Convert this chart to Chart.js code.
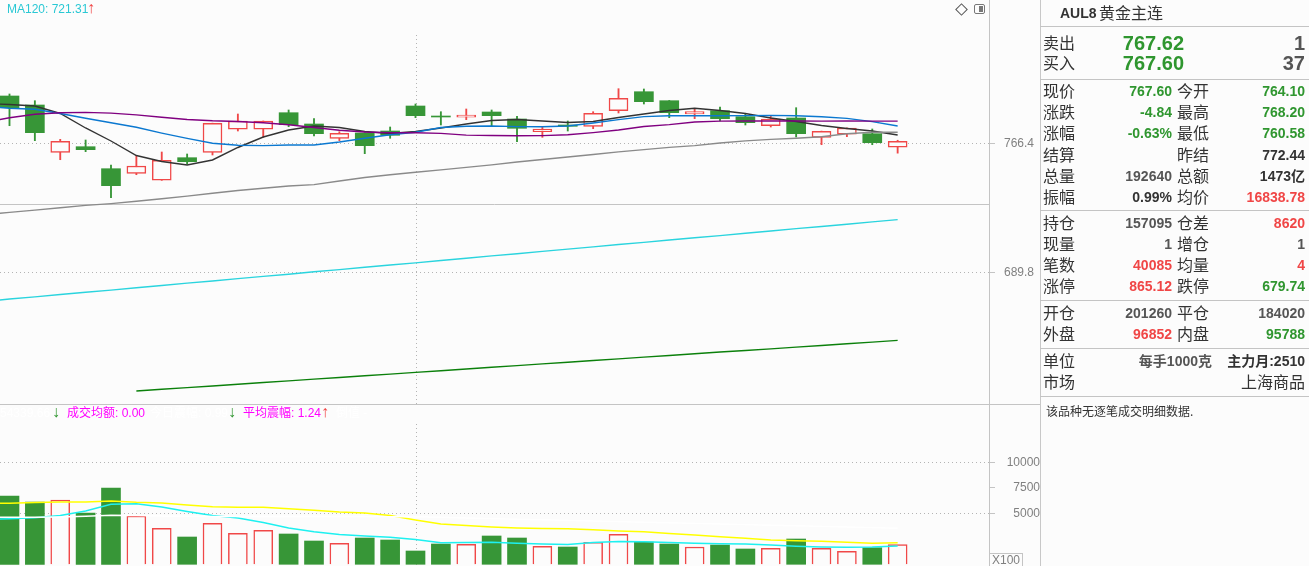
<!DOCTYPE html>
<html>
<head>
<meta charset="utf-8">
<title>AUL8 黄金主连</title>
<script src="https://cdn.jsdelivr.net/npm/chart.js@4.4.1/dist/chart.umd.min.js"></script>
<style>
    body {
        margin: 0;
        width: 1309px;
        height: 566px;
        overflow: hidden;
        position: relative;
        background: #fcfcfc;
        font-family: 'Liberation Sans', Arial, sans-serif;
    }
    canvas { position: absolute; left: 0; }
    #price-chart { top: 0; }
    #volume-chart { top: 405px; }
    .abs { position: absolute; white-space: nowrap; z-index: 2; }
    .hline { position: absolute; height: 1px; background: #c4c4c4; z-index: 2; }
    .cjk { font: 16px 'Noto Sans CJK SC', sans-serif; line-height: 20px; color: #333; }
    .num { font: bold 14px 'Liberation Sans', 'Noto Sans CJK SC', sans-serif; line-height: 20px; }
    .big { font: bold 20px 'Liberation Sans', sans-serif; line-height: 20px; }
    .small { font: 12px 'Liberation Sans', 'Noto Sans CJK SC', sans-serif; line-height: 16px; }
    .smallcjk { font: 12px 'Noto Sans CJK SC', sans-serif; line-height: 16px; color: #333; }
    .arrow { font: 16px 'Liberation Sans', 'DejaVu Sans', sans-serif; line-height: 18px; }
    #panel {
        position: absolute; left: 1040px; top: 0; width: 269px; height: 566px;
        border-left: 1px solid #c8c8c8;
    }
    #diamond {
        position: absolute; left: 957px; top: 5px; width: 7px; height: 7px;
        border: 1px solid #555; transform: rotate(45deg);
    }
    #toggle {
        position: absolute; left: 974px; top: 4px; width: 9px; height: 8px;
        border: 1.5px solid #777; border-radius: 2px;
    }
    #toggle div { position: absolute; right: 1px; top: 1px; width: 4px; height: 6px; background: #777; }
    #x100 {
        position: absolute; left: 989px; top: 553px; width: 32px; height: 13px;
        border: 1px solid #c4c4c4; color: #808080; font: 12px 'Liberation Sans', sans-serif;
        line-height: 13px; text-align: center;
    }
</style>
</head>
<body>
<canvas id="price-chart" width="1040" height="404"></canvas>
<div class="hline" style="left:0;top:404px;width:1040px"></div>
<canvas id="volume-chart" width="1040" height="161"></canvas>
<div id="diamond"></div>
<div id="toggle"><div></div></div>
<div id="x100">X100</div>
<div id="panel"></div>

<script>
// daily candles, oldest first (last one is today's session)
const OPEN  = [794.34, 789.02, 761.08, 764.39, 751.40, 748.68, 744.55, 757.90, 761.08, 774.67,
               774.67, 784.47, 777.80, 769.35, 772.48, 773.66, 788.43, 782.52, 781.76, 784.89,
               780.75, 773.25, 777.21, 776.44, 785.65, 796.87, 791.56, 783.70, 785.65, 782.11,
               776.79, 781.34, 769.94, 771.72, 772.07, 764.10]
const HIGH  = [795.52, 791.56, 768.76, 768.35, 753.58, 759.31, 761.26, 760.08, 778.30, 783.70,
               779.60, 786.07, 780.93, 773.25, 772.60, 776.03, 789.61, 785.06, 786.66, 786.07,
               782.35, 775.85, 779.57, 785.06, 798.65, 798.47, 791.70, 786.48, 787.84, 784.12,
               782.52, 787.43, 773.60, 775.50, 774.85, 768.20]
const LOW   = [776.79, 767.94, 756.71, 761.44, 734.27, 747.85, 744.50, 754.17, 759.49, 773.66,
               769.94, 776.20, 770.71, 767.94, 760.26, 769.35, 781.52, 777.21, 780.34, 776.44,
               767.34, 769.94, 773.66, 775.02, 784.30, 789.61, 781.52, 780.93, 779.57, 777.21,
               776.03, 770.12, 765.57, 770.30, 765.57, 760.58]
const CLOSE = [787.43, 772.66, 767.58, 762.62, 741.36, 752.99, 756.36, 755.53, 778.21, 779.57,
               779.57, 777.39, 772.07, 772.31, 764.98, 771.12, 782.70, 781.93, 783.11, 782.70,
               775.26, 774.85, 776.44, 784.12, 792.98, 790.97, 784.47, 785.06, 780.93, 778.57,
               780.75, 772.07, 773.49, 775.44, 766.75, 767.60]
// volume in lots x100
const VOLUME = [6696, 6108, 6304, 5029, 7480, 4735, 3529, 2676, 4020, 3039,
                3333, 2971, 2284, 2059, 2578, 2382, 1304, 1990, 1961, 2775,
                2578, 1765, 1696, 2157, 2941, 2186, 1990, 1696, 1892, 1500,
                1569, 2480, 1569, 1275, 1627, 1926]

// averages: first value belongs to the session just before the first visible candle
const MA5   = [789.91, 789.32, 788.43, 784.00, 775.44, 767.76, 759.19, 755.65, 753.58, 756.54,
               763.92, 770.12, 774.25, 776.62, 775.73, 773.37, 772.19, 773.37, 775.44, 777.80,
               779.87, 780.46, 779.57, 778.68, 779.28, 781.64, 783.70, 785.77, 787.07, 785.77,
               784.00, 781.34, 779.28, 776.91, 775.14, 773.66, 771.30]
const MA10  = [788.13, 787.13, 786.48, 784.00, 781.17, 778.57, 775.85, 772.42, 769.29, 766.40,
               765.22, 765.04, 765.40, 765.40, 767.17, 769.35, 771.42, 772.96, 775.73, 776.50,
               776.62, 776.26, 776.20, 776.62, 778.39, 780.40, 782.17, 782.70, 782.70, 782.70,
               782.76, 782.88, 782.64, 782.05, 781.11, 779.22, 776.62]
const MA20  = [778.68, 781.46, 783.59, 784.47, 784.65, 784.24, 783.17, 781.81, 780.46, 779.69,
               779.27, 778.57, 777.33, 775.73, 774.08, 773.07, 772.66, 772.66, 772.25, 771.24,
               771.01, 770.89, 770.95, 771.42, 772.72, 774.25, 776.32, 777.44, 778.98, 779.51,
               779.57, 779.60, 779.60, 779.50, 779.60, 779.50, 779.50]
const MA60  = [724.17, 725.59, 726.95, 728.31, 729.72, 730.79, 732.15, 733.68, 735.22, 736.87,
               738.52, 739.88, 741.18, 742.01, 744.13, 746.20, 747.85, 749.33, 750.69, 752.17,
               753.64, 755.36, 756.83, 758.31, 759.79, 761.32, 762.68, 763.98, 765.04, 766.58,
               767.82, 768.70, 769.35, 770.24, 772.01, 772.90, 772.90]
const MA120 = [673.0, 674.4, 675.7, 677.1, 678.4, 679.7, 681.1, 682.4, 683.8, 685.1,
               686.5, 687.8, 689.1, 690.5, 691.8, 693.2, 694.5, 695.8, 697.2, 698.5,
               699.9, 701.2, 702.6, 703.9, 705.2, 706.6, 707.9, 709.3, 710.6, 711.9,
               713.3, 714.6, 716.0, 717.3, 718.6, 720.0, 721.31]
const MA250 = [null, null, null, null, null, null, 620.1, 621.1, 622.1, 623.1,
               624.1, 625.1, 626.1, 627.1, 628.1, 629.1, 630.1, 631.1, 632.1, 633.1,
               634.1, 635.1, 636.1, 637.1, 638.1, 639.1, 640.1, 641.1, 642.1, 643.1,
               644.0, 645.0, 646.0, 647.0, 648.0, 649.0, 650.0]
const VOL_MA_CYAN   = [4392, 4461, 4569, 4784, 5226, 5882, 5941, 5618, 5177, 4784,
                       4539, 4098, 3559, 3186, 2922, 2775, 2647, 2431, 2118, 2137,
                       2157, 2069, 1990, 1941, 2137, 2235, 2216, 2137, 2059, 2020,
                       1990, 1892, 1775, 1696, 1667, 1696, 1794]
const VOL_MA_YELLOW = [5980, 5980, 6059, 6108, 6108, 6206, 6078, 6010, 5814, 5647,
                       5588, 5588, 5451, 5294, 5127, 5029, 4784, 4343, 3951, 3804,
                       3657, 3559, 3510, 3490, 3382, 3265, 3186, 3020, 2873, 2706,
                       2549, 2382, 2314, 2265, 2157, 2059, 2118]
const VOL_MA_WHITE  = [4608, 4608, 4608, 4637, 4706, 4804, 4784, 4735, 4706, 4686,
                       4686, 4686, 4686, 4686, 4686, 4686, 4667, 4667, 4608, 4539,
                       4480, 4422, 4363, 4304, 4245, 4186, 4127, 4069, 4010, 3951,
                       3892, 3833, 3774, 3716, 3657, 3598, 3529]

const PRICE_TICKS = [689.8, 766.4]
const VOL_TICKS   = [5000, 7500, 10000]
const DIVIDER_INDEX = 16

// view window
const X_MIN = -0.374, X_MAX = 38.6
const PRICE_MIN = 612.43, PRICE_MAX = 851.03
const VOL_MIN = -167, VOL_MAX = 15618

const UP = '#f04848'
const DOWN = '#379637'
const BG = '#fcfcfc'
const GRID = '#b4b4b4'
const AXIS = '#c4c4c4'

const isUp = i => CLOSE[i] >= OPEN[i]
const candles = arr => arr.map((v, i) => ({ x: i, y: v }))
const averages = arr => arr.map((v, k) => ({ x: k - 1, y: v }))

function maLine(data, color, width) {
    return {
        type: 'line', order: 0, data: averages(data),
        borderColor: color, borderWidth: width || 1.4,
        pointRadius: 0, spanGaps: false
    }
}

function rightAxis(min, max, ticks, opts) {
    return {
        position: 'right', min: min, max: max,
        afterBuildTicks: s => { s.ticks = ticks.map(v => ({ value: v })) },
        afterFit: s => { s.width = 51; s.paddingTop = 0; s.paddingBottom = 0 },
        ticks: {
            color: '#808080', padding: opts.padding, crossAlign: opts.align,
            font: { family: 'Liberation Sans', size: 12 },
            callback: opts.format
        },
        grid: {
            color: opts.gridColor, tickColor: AXIS, tickLength: 6, lineWidth: 1
        },
        border: { display: true, color: AXIS, width: 1, dash: [1, 3] }
    }
}

// dotted period divider and the solid band line of the price pane
const guides = {
    id: 'guides',
    beforeDatasetsDraw(chart, args, opts) {
        const { ctx, chartArea, scales } = chart
        const px = Math.round(scales.x.getPixelForValue(DIVIDER_INDEX)) + 0.5
        ctx.save()
        ctx.lineWidth = 1
        ctx.strokeStyle = GRID
        ctx.setLineDash([1, 3])
        ctx.beginPath()
        ctx.moveTo(px, chartArea.top + opts.dividerFrom)
        ctx.lineTo(px, chartArea.bottom)
        ctx.stroke()
        if (opts.bandAt) {
            ctx.setLineDash([])
            ctx.strokeStyle = AXIS
            ctx.beginPath()
            ctx.moveTo(chartArea.left, chartArea.top + opts.bandAt + 0.5)
            ctx.lineTo(chartArea.right, chartArea.top + opts.bandAt + 0.5)
            ctx.stroke()
        }
        ctx.restore()
    }
}

const common = {
    responsive: false,
    animation: false,
    devicePixelRatio: 1,
    events: [],
    layout: { padding: 0 }
}

new Chart(document.getElementById('price-chart'), {
    type: 'bar',
    data: {
        datasets: [
            {
                type: 'bar', order: 3, grouped: false, barThickness: 1.2,
                data: LOW.map((l, i) => ({ x: i, y: [l, HIGH[i]] })),
                backgroundColor: c => isUp(c.dataIndex) ? UP : DOWN
            },
            {
                type: 'bar', order: 2, grouped: false, barThickness: 19, minBarLength: 1,
                data: CLOSE.map((c, i) => ({ x: i, y: [OPEN[i], c] })),
                backgroundColor: c => isUp(c.dataIndex) ? BG : DOWN,
                borderColor: c => isUp(c.dataIndex) ? UP : DOWN,
                borderWidth: c => isUp(c.dataIndex) ? 1.5 : 0,
                borderSkipped: false
            },
            maLine(MA250, '#0b800b'),
            maLine(MA120, '#2ad4de'),
            maLine(MA60, '#8a8a8a'),
            maLine(MA20, '#800080'),
            maLine(MA10, '#0b78d0'),
            maLine(MA5, '#333333')
        ]
    },
    options: Object.assign({}, common, {
        plugins: {
            legend: { display: false },
            tooltip: { enabled: false },
            guides: { dividerFrom: 35, bandAt: 204 }
        },
        scales: {
            x: { type: 'linear', min: X_MIN, max: X_MAX, display: false, offset: false },
            y: rightAxis(PRICE_MIN, PRICE_MAX, PRICE_TICKS, {
                padding: 9, align: 'near', gridColor: GRID,
                format: v => v.toFixed(1)
            })
        }
    }),
    plugins: [guides]
})

new Chart(document.getElementById('volume-chart'), {
    type: 'bar',
    data: {
        datasets: [
            {
                type: 'bar', order: 1, grouped: false, barThickness: 19,
                data: candles(VOLUME),
                backgroundColor: c => isUp(c.dataIndex) ? BG : DOWN,
                borderColor: c => isUp(c.dataIndex) ? UP : DOWN,
                borderWidth: c => isUp(c.dataIndex) ? 1.5 : 0
            },
            maLine(VOL_MA_WHITE, '#ffffff'),
            maLine(VOL_MA_YELLOW, '#ffff00'),
            maLine(VOL_MA_CYAN, '#1ef0f0')
        ]
    },
    options: Object.assign({}, common, {
        plugins: {
            legend: { display: false },
            tooltip: { enabled: false },
            guides: { dividerFrom: 19 }
        },
        scales: {
            x: { type: 'linear', min: X_MIN, max: X_MAX, display: false, offset: false },
            y: rightAxis(VOL_MIN, VOL_MAX, VOL_TICKS, {
                padding: 6, align: 'far',
                gridColor: c => c.tick && c.tick.value === 7500 ? 'rgba(0,0,0,0)' : GRID,
                format: v => String(v)
            })
        }
    }),
    plugins: [guides]
})


// ---- text overlays ----
const GREEN = '#2f962f'
const RED = '#f04646'
const GRAY = '#555555'
const DARK = '#333333'
const OFFSET = { cjk: 11, num: 10, big: 10, small: 8, smallcjk: 9, arrow: 10 }

function put(text, cls, cy, pos, color) {
    const s = document.createElement('span')
    s.className = 'abs ' + cls
    s.textContent = text
    s.style.top = (cy - OFFSET[cls]) + 'px'
    if (pos.left != null) s.style.left = pos.left + 'px'
    if (pos.right != null) s.style.right = (1309 - pos.right) + 'px'
    if (color) s.style.color = color
    document.body.appendChild(s)
}

function hline(y) {
    const d = document.createElement('div')
    d.className = 'hline'
    d.style.left = '1040px'
    d.style.width = '269px'
    d.style.top = y + 'px'
    document.body.appendChild(d)
}

// chart legends
put('MA120: 721.31', 'small', 9, { left: 7 }, '#2ac8d4')
put('↑', 'arrow', 9, { left: 87 }, RED)
put('54339.66', 'small', 413, { left: 0 }, '#ffffff')
put('↓', 'arrow', 413, { left: 52 }, GREEN)
put('成交均额: 0.00', 'small', 413, { left: 67 }, '#ff00ff')
put('今日震幅: 0.99', 'small', 413, { left: 150 }, '#ffffff')
put('↓', 'arrow', 413, { left: 228 }, GREEN)
put('平均震幅: 1.24', 'small', 413, { left: 243 }, '#ff00ff')
put('↑', 'arrow', 413, { left: 321 }, RED)
put('倒值 -', 'small', 413, { left: 336 }, '#ffffff')

// quote panel
put('AUL8', 'num', 13, { left: 1060 }, DARK)
put('黄金主连', 'cjk', 13, { left: 1099 })
hline(26)
put('卖出', 'cjk', 43, { left: 1043 })
put('767.62', 'big', 43, { right: 1184 }, GREEN)
put('1', 'big', 43, { right: 1305 }, GRAY)
put('买入', 'cjk', 63, { left: 1043 })
put('767.60', 'big', 63, { right: 1184 }, GREEN)
put('37', 'big', 63, { right: 1305 }, GRAY)
hline(79)

const QUOTE_ROWS = [
    [91,  '现价', '767.60', GREEN, '今开', '764.10', GREEN],
    [112, '涨跌', '-4.84', GREEN, '最高', '768.20', GREEN],
    [133, '涨幅', '-0.63%', GREEN, '最低', '760.58', GREEN],
    [155, '结算', '', DARK, '昨结', '772.44', DARK],
    [176, '总量', '192640', GRAY, '总额', '1473亿', DARK],
    [197, '振幅', '0.99%', DARK, '均价', '16838.78', RED],
    [223, '持仓', '157095', GRAY, '仓差', '8620', RED],
    [244, '现量', '1', GRAY, '增仓', '1', GRAY],
    [265, '笔数', '40085', RED, '均量', '4', RED],
    [286, '涨停', '865.12', RED, '跌停', '679.74', GREEN],
    [313, '开仓', '201260', GRAY, '平仓', '184020', GRAY],
    [334, '外盘', '96852', RED, '内盘', '95788', GREEN]
]

QUOTE_ROWS.forEach(r => {
    put(r[1], 'cjk', r[0], { left: 1043 })
    if (r[2]) put(r[2], 'num', r[0], { right: 1172 }, r[3])
    put(r[4], 'cjk', r[0], { left: 1177 })
    put(r[5], 'num', r[0], { right: 1305 }, r[6])
})
hline(210)
hline(300)
hline(348)

put('单位', 'cjk', 361, { left: 1043 })
put('每手1000克', 'num', 361, { right: 1212 }, GRAY)
put('主力月:2510', 'num', 361, { right: 1305 }, DARK)
put('市场', 'cjk', 382, { left: 1043 })
put('上海商品', 'cjk', 382, { right: 1305 })
hline(396)
put('该品种无逐笔成交明细数据.', 'smallcjk', 412, { left: 1046 })
</script>
</body>
</html>
